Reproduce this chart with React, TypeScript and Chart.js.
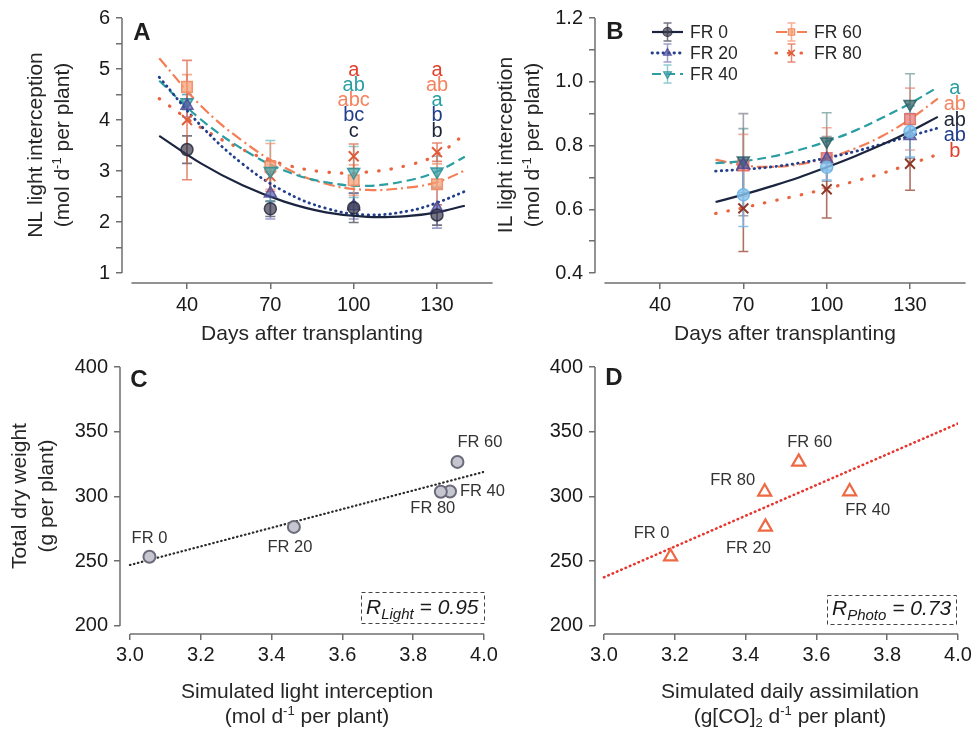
import React, { useEffect, useRef } from 'react';
import { Chart, registerables } from 'chart.js';

Chart.register(...registerables);

/* ====================== DATA ====================== */
const SERIES_NAMES = ['FR 0', 'FR 20', 'FR 40', 'FR 60', 'FR 80'];

// Panel A – NL light interception (mol d-1 per plant)
const NL_DAYS = [40, 70, 100, 130];
const NL_FR0 = [3.42, 2.26, 2.28, 2.14];
const NL_FR20 = [4.28, 2.56, 2.31, 2.27];
const NL_FR40 = [4.35, 3.0, 2.98, 2.99];
const NL_FR60 = [4.65, 3.09, 2.82, 2.74];
const NL_FR80 = [4.0, 2.9, 3.29, 3.37];
const NL_ERR_FR0 = [0.27, 0.15, 0.29, 0.2];
const NL_ERR_FR20 = [0.22, 0.5, 0.25, 0.39];
const NL_ERR_FR40 = [0.15, 0.6, 0.5, 0.3];
const NL_ERR_FR60 = [0.24, 0.45, 0.3, 0.4];
const NL_ERR_FR80 = [1.17, 0.3, 0.24, 0.18];
const NL_FIT_DAYS = [30, 45, 60, 75, 90, 105, 120, 130, 140];
const NL_FIT_FR0 = [3.69, 3.15, 2.72, 2.4, 2.19, 2.1, 2.12, 2.19, 2.32];
const NL_FIT_FR20 = [4.84, 3.89, 3.14, 2.6, 2.27, 2.14, 2.22, 2.38, 2.6];
const NL_FIT_FR40 = [4.77, 4.01, 3.43, 3.01, 2.78, 2.71, 2.82, 2.99, 3.28];
const NL_FIT_FR60 = [5.21, 4.28, 3.59, 3.07, 2.75, 2.63, 2.68, 2.78, 3.01];
const NL_FIT_FR80 = [4.42, 3.85, 3.42, 3.13, 2.98, 2.98, 3.12, 3.32, 3.72];
const NL_Y_TICKS = [1, 1.5, 2, 2.5, 3, 3.5, 4, 4.5, 5, 5.5, 6];
const NL_Y_LABELS = [1, 2, 3, 4, 5, 6];
const DAY_TICKS = [40, 70, 100, 130];
const NL_SIG_DAYS = [100, 130];
const NL_SIG_100 = ['a', 'ab', 'abc', 'bc', 'c'];
const NL_SIG_100_SERIES = [4, 2, 3, 1, 0];
const NL_SIG_130 = ['a', 'ab', 'a', 'b', 'b'];
const NL_SIG_130_SERIES = [4, 3, 2, 1, 0];

// Panel B – IL light interception (mol d-1 per plant)
const IL_DAYS = [70, 100, 130];
const IL_FR0 = [0.646, 0.732, 0.844];
const IL_FR20 = [0.74, 0.758, 0.83];
const IL_FR40 = [0.753, 0.813, 0.93];
const IL_FR60 = [0.738, 0.761, 0.883];
const IL_FR80 = [0.603, 0.663, 0.743];
const IL_ERR_FR0 = [0.1, 0.04, 0.08];
const IL_ERR_FR20 = [0.16, 0.07, 0.07];
const IL_ERR_FR40 = [0.1, 0.09, 0.095];
const IL_ERR_FR60 = [0.097, 0.095, 0.097];
const IL_ERR_FR80 = [0.135, 0.09, 0.083];
const IL_FIT_DAYS = [60, 70, 80, 90, 100, 110, 120, 130, 140];
const IL_FIT_FR0 = [0.623, 0.646, 0.672, 0.7, 0.732, 0.766, 0.803, 0.844, 0.89];
const IL_FIT_FR20 = [0.72, 0.725, 0.733, 0.745, 0.761, 0.781, 0.805, 0.83, 0.855];
const IL_FIT_FR40 = [0.745, 0.751, 0.765, 0.786, 0.813, 0.846, 0.887, 0.932, 0.983];
const IL_FIT_FR60 = [0.756, 0.738, 0.733, 0.741, 0.761, 0.79, 0.83, 0.883, 0.947];
const IL_FIT_FR80 = [0.587, 0.605, 0.625, 0.644, 0.665, 0.688, 0.713, 0.742, 0.772];
const IL_Y_TICKS = [0.4, 0.5, 0.6, 0.7, 0.8, 0.9, 1.0, 1.1, 1.2];
const IL_Y_LABELS = [0.4, 0.6, 0.8, 1.0, 1.2];
const IL_SIG = ['a', 'ab', 'ab', 'ab', 'b'];
const IL_SIG_SERIES = [2, 3, 0, 1, 4];

// Panels C & D – total dry weight (g per plant), order FR0, FR20, FR40, FR60, FR80
const TOTAL_DW = [253.5, 276.5, 303.8, 326.7, 303.6];
const SIM_LIGHT = [3.055, 3.463, 3.904, 3.925, 3.878];
const SIM_ASSIM = [3.188, 3.456, 3.694, 3.55, 3.454];
const FIT_X_CD = [3.0, 4.0];
const LIGHT_FIT_Y = [247.1, 319.0];
const ASSIM_FIT_Y = [237.6, 356.3];
const CD_X_TICKS = [3.0, 3.2, 3.4, 3.6, 3.8, 4.0];
const CD_Y_TICKS = [200, 250, 300, 350, 400];
const R_LIGHT = '0.95';
const R_PHOTO = '0.73';

/* ====================== STYLE ====================== */
const FONT = '"Liberation Sans", Arial, Helvetica, sans-serif';
const PAGE_W = 979;
const PAGE_H = 732;
const AXIS_COLOR = '#6f6f6f';
const TEXT_COLOR = '#262626';
const TICK_COLOR = '#1a1a1a';
const Y_AXIS_W = 60;
const X_AXIS_H = 45;

type SeriesStyle = {
  color: string; width: number; dash: number[]; cap: CanvasLineCap;
  marker: string; rot: number; r: number; mFill: string; mStroke: string; mWidth: number;
  err: string; letter: string;
};

const A_STYLES: SeriesStyle[] = [
  { color: '#1b2540', width: 2.2, dash: [], cap: 'butt', marker: 'circle', rot: 0, r: 6, mFill: 'rgba(60,60,80,0.7)', mStroke: 'rgba(35,35,55,0.8)', mWidth: 1.5, err: 'rgba(45,45,65,0.65)', letter: '#1e2435' },
  { color: '#223f8c', width: 2.8, dash: [0.5, 5], cap: 'round', marker: 'triangle', rot: 0, r: 7, mFill: 'rgba(85,85,165,0.65)', mStroke: 'rgba(70,70,150,0.8)', mWidth: 1.5, err: 'rgba(95,95,170,0.6)', letter: '#1f3d8a' },
  { color: '#2a9ea3', width: 2.2, dash: [9, 5], cap: 'butt', marker: 'triangle', rot: 180, r: 7, mFill: 'rgba(65,165,172,0.7)', mStroke: 'rgba(45,145,150,0.85)', mWidth: 1.5, err: 'rgba(70,170,175,0.6)', letter: '#2a9fa3' },
  { color: '#f47e55', width: 2.2, dash: [11, 4, 2, 4], cap: 'butt', marker: 'rect', rot: 0, r: 7.5, mFill: 'rgba(246,160,120,0.75)', mStroke: 'rgba(240,140,100,0.9)', mWidth: 1.5, err: 'rgba(245,140,100,0.7)', letter: '#f4845f' },
  { color: '#ea6440', width: 3.2, dash: [0.5, 12], cap: 'round', marker: 'crossRot', rot: 0, r: 7, mFill: 'rgba(0,0,0,0)', mStroke: '#de5e3c', mWidth: 2, err: 'rgba(220,90,60,0.7)', letter: '#e2412e' },
];

const B_STYLES: SeriesStyle[] = [
  { ...A_STYLES[0], mFill: 'rgba(135,198,240,0.8)', mStroke: 'rgba(110,180,230,0.9)', err: 'rgba(110,110,120,0.6)' },
  { ...A_STYLES[1], mFill: 'rgba(75,85,150,0.6)', err: 'rgba(90,90,105,0.55)' },
  { ...A_STYLES[2], mFill: 'rgba(55,105,110,0.75)', mStroke: 'rgba(45,95,100,0.85)', err: 'rgba(80,130,130,0.6)' },
  { ...A_STYLES[3], mFill: 'rgba(232,125,120,0.75)', mStroke: 'rgba(225,110,100,0.9)', err: 'rgba(230,120,100,0.6)' },
  { ...A_STYLES[4], mStroke: '#8b3a2a', err: 'rgba(150,65,45,0.75)' },
];
const B_ERR_FR0_COLOR = 'rgba(120,185,235,0.85)';

const C_LABEL_POS = [
  { dx: 0, dy: -18, align: 'center' }, { dx: -4, dy: 21, align: 'center' },
  { dx: 10, dy: 0, align: 'left' }, { dx: 0, dy: -19, align: 'left' }, { dx: -8, dy: 17, align: 'center' },
];
const D_LABEL_POS = [
  { dx: -19, dy: -23, align: 'center' }, { dx: -17, dy: 22, align: 'center' },
  { dx: 18, dy: 19, align: 'center' }, { dx: 11, dy: -19, align: 'center' }, { dx: -32, dy: -11, align: 'center' },
];

/* ====================== HELPERS ====================== */
const pts = (xs: number[], ys: number[]) => xs.map((x, i) => ({ x, y: ys[i] }));

type Area = { l: number; t: number; r: number; b: number };
function layoutFor(a: Area) {
  return { padding: { left: a.l - Y_AXIS_W, top: a.t, right: PAGE_W - a.r, bottom: PAGE_H - a.b - X_AXIS_H } };
}

function xAxisOpts(min: number, max: number, ticks: number[], fmt: (v: number) => string, pad: number) {
  return {
    type: 'linear', position: 'bottom', min, max, bounds: 'data',
    afterBuildTicks: (s: any) => { s.ticks = ticks.map((v) => ({ value: v })); },
    afterFit: (s: any) => { s.height = X_AXIS_H; },
    ticks: { autoSkip: false, maxRotation: 0, minRotation: 0, padding: pad, color: TICK_COLOR, font: { family: FONT, size: 20 }, callback: (v: any) => fmt(Number(v)) },
    grid: { display: true, drawOnChartArea: false, drawTicks: true, tickLength: 6, color: AXIS_COLOR, lineWidth: 1.5 },
    border: { display: false },
  };
}

function yAxisOpts(min: number, max: number, ticks: number[], labeled: number[], fmt: (v: number) => string) {
  return {
    type: 'linear', position: 'left', min, max, bounds: 'data',
    afterBuildTicks: (s: any) => { s.ticks = ticks.map((v) => ({ value: v })); },
    afterFit: (s: any) => { s.width = Y_AXIS_W; },
    ticks: { autoSkip: false, padding: 6, color: TICK_COLOR, font: { family: FONT, size: 20 },
      callback: (v: any) => (labeled.some((l) => Math.abs(l - Number(v)) < 1e-6) ? fmt(Number(v)) : '') },
    grid: { display: true, drawOnChartArea: false, drawTicks: true, tickLength: 6, color: AXIS_COLOR, lineWidth: 1.5 },
    border: { display: false },
  };
}

function drawAxisLines(chart: any, xFrom: number, xTo: number, yFrom: number, yTo: number) {
  const { ctx, chartArea, scales } = chart;
  ctx.save();
  ctx.strokeStyle = AXIS_COLOR;
  ctx.lineWidth = 1.5;
  ctx.beginPath();
  ctx.moveTo(chartArea.left, scales.y.getPixelForValue(yTo));
  ctx.lineTo(chartArea.left, scales.y.getPixelForValue(yFrom));
  ctx.moveTo(scales.x.getPixelForValue(xFrom), chartArea.bottom);
  ctx.lineTo(scales.x.getPixelForValue(xTo), chartArea.bottom);
  ctx.stroke();
  ctx.restore();
}

type Part = { t: string; s?: number; dy?: number };
function drawParts(ctx: CanvasRenderingContext2D, parts: Part[], x: number, baseline: number, base: number, align: 'left' | 'center', style = '') {
  const fontOf = (s: number) => `${style}${s}px ${FONT}`;
  const widths = parts.map((p) => { ctx.font = fontOf(p.s ?? base); return ctx.measureText(p.t).width; });
  const total = widths.reduce((a, b) => a + b, 0);
  let cx = align === 'center' ? x - total / 2 : x;
  ctx.textAlign = 'left';
  ctx.textBaseline = 'alphabetic';
  parts.forEach((p, i) => {
    ctx.font = fontOf(p.s ?? base);
    ctx.fillText(p.t, cx, baseline + (p.dy ?? 0));
    cx += widths[i];
  });
}

const TITLE_SIZE = 21;
function drawYTitle(ctx: CanvasRenderingContext2D, lines: Part[][], xs: number[], cy: number) {
  ctx.save();
  ctx.fillStyle = TEXT_COLOR;
  lines.forEach((parts, i) => {
    ctx.save();
    ctx.translate(xs[i], cy);
    ctx.rotate(-Math.PI / 2);
    drawParts(ctx, parts, 0, 7.5, TITLE_SIZE, 'center');
    ctx.restore();
  });
  ctx.restore();
}
function drawXTitle(ctx: CanvasRenderingContext2D, lines: Part[][], cx: number, ys: number[]) {
  ctx.save();
  ctx.fillStyle = TEXT_COLOR;
  lines.forEach((parts, i) => drawParts(ctx, parts, cx, ys[i] + 7.5, TITLE_SIZE, 'center'));
  ctx.restore();
}
function drawPanelLetter(ctx: CanvasRenderingContext2D, letter: string, x: number, y: number) {
  ctx.save();
  ctx.fillStyle = '#1e1e1e';
  ctx.font = `bold 24px ${FONT}`;
  ctx.textAlign = 'center';
  ctx.textBaseline = 'middle';
  ctx.fillText(letter, x, y);
  ctx.restore();
}

function drawShape(ctx: CanvasRenderingContext2D, shape: string, x: number, y: number, r: number, rot: number, fill: string, stroke: string, lw: number) {
  ctx.save();
  ctx.translate(x, y);
  if (rot) ctx.rotate((rot * Math.PI) / 180);
  ctx.beginPath();
  if (shape === 'circle') ctx.arc(0, 0, r, 0, 2 * Math.PI);
  else if (shape === 'triangle') { ctx.moveTo(0, -r); ctx.lineTo(r * 0.866, r * 0.5); ctx.lineTo(-r * 0.866, r * 0.5); ctx.closePath(); }
  else if (shape === 'rect') { const s = r * 0.707; ctx.rect(-s, -s, 2 * s, 2 * s); }
  else { const s = r * 0.707; ctx.moveTo(-s, -s); ctx.lineTo(s, s); ctx.moveTo(s, -s); ctx.lineTo(-s, s); }
  if (shape !== 'crossRot') { ctx.fillStyle = fill; ctx.fill(); }
  ctx.strokeStyle = stroke;
  ctx.lineWidth = lw;
  ctx.stroke();
  ctx.restore();
}

function drawErrorBars(chart: any, days: number[], vals: number[][], errs: number[][], colors: string[]) {
  const { ctx, scales } = chart;
  ctx.save();
  ctx.lineWidth = 1.6;
  vals.forEach((v, i) => {
    ctx.strokeStyle = colors[i];
    days.forEach((d, j) => {
      const px = scales.x.getPixelForValue(d);
      const hi = scales.y.getPixelForValue(v[j] + errs[i][j]);
      const lo = scales.y.getPixelForValue(v[j] - errs[i][j]);
      ctx.beginPath();
      ctx.moveTo(px, hi); ctx.lineTo(px, lo);
      ctx.moveTo(px - 5, hi); ctx.lineTo(px + 5, hi);
      ctx.moveTo(px - 5, lo); ctx.lineTo(px + 5, lo);
      ctx.stroke();
    });
  });
  ctx.restore();
}

function timeDatasets(days: number[], vals: number[][], fitDays: number[], fits: number[][], styles: SeriesStyle[]) {
  const ds: any[] = [];
  fits.forEach((f, i) => ds.push({
    label: SERIES_NAMES[i] + ' fit', data: pts(fitDays, f), showLine: true, pointRadius: 0,
    borderColor: styles[i].color, borderWidth: styles[i].width, borderDash: styles[i].dash,
    borderCapStyle: styles[i].cap, tension: 0.4, fill: false, order: 2,
  }));
  vals.forEach((v, i) => ds.push({
    label: SERIES_NAMES[i], data: pts(days, v), showLine: false,
    pointStyle: styles[i].marker, pointRotation: styles[i].rot, pointRadius: styles[i].r,
    pointBackgroundColor: styles[i].mFill, pointBorderColor: styles[i].mStroke, pointBorderWidth: styles[i].mWidth,
    order: 1,
  }));
  return ds;
}

const baseOptions = (area: Area, scales: any) => ({
  responsive: false,
  animation: false,
  devicePixelRatio: 1,
  events: [],
  layout: layoutFor(area),
  plugins: { legend: { display: false }, tooltip: { enabled: false } },
  scales,
});

const UNIT_MOL: Part[] = [{ t: '(mol d' }, { t: '-1', s: 13, dy: -8 }, { t: ' per plant)' }];

/* ====================== PANEL CONFIGS ====================== */
function configA(): any {
  const vals = [NL_FR0, NL_FR20, NL_FR40, NL_FR60, NL_FR80];
  const errs = [NL_ERR_FR0, NL_ERR_FR20, NL_ERR_FR40, NL_ERR_FR60, NL_ERR_FR80];
  const fits = [NL_FIT_FR0, NL_FIT_FR20, NL_FIT_FR40, NL_FIT_FR60, NL_FIT_FR80];
  const area = { l: 122, t: 17, r: 492.6, b: 283 };
  return {
    type: 'scatter',
    data: { datasets: timeDatasets(NL_DAYS, vals, NL_FIT_DAYS, fits, A_STYLES) },
    options: baseOptions(area, {
      x: xAxisOpts(16.6, 150, DAY_TICKS, (v) => String(v), 4),
      y: yAxisOpts(0.805, 6, NL_Y_TICKS, NL_Y_LABELS, (v) => String(v)),
    }),
    plugins: [{
      id: 'decorA',
      beforeDatasetsDraw(chart: any) {
        drawAxisLines(chart, 20, 150, 1, 6);
        drawErrorBars(chart, NL_DAYS, vals, errs, A_STYLES.map((s) => s.err));
      },
      afterDraw(chart: any) {
        const { ctx, scales } = chart;
        drawPanelLetter(ctx, 'A', 142, 33);
        drawYTitle(ctx, [[{ t: 'NL light interception' }], UNIT_MOL], [34, 61], 145);
        drawXTitle(ctx, [[{ t: 'Days after transplanting' }]], 312, [332]);
        ctx.save();
        ctx.font = `20px ${FONT}`;
        ctx.textAlign = 'center';
        ctx.textBaseline = 'middle';
        const cols = [[NL_SIG_100, NL_SIG_100_SERIES], [NL_SIG_130, NL_SIG_130_SERIES]];
        cols.forEach(([letters, series], c) => {
          const px = scales.x.getPixelForValue(NL_SIG_DAYS[c]);
          const top = scales.y.getPixelForValue(4.98);
          (letters as string[]).forEach((l, i) => {
            ctx.fillStyle = A_STYLES[(series as number[])[i]].letter;
            ctx.fillText(l, px, top + i * 15.3);
          });
        });
        ctx.restore();
      },
    }],
  };
}

function configB(): any {
  const vals = [IL_FR0, IL_FR20, IL_FR40, IL_FR60, IL_FR80];
  const errs = [IL_ERR_FR0, IL_ERR_FR20, IL_ERR_FR40, IL_ERR_FR60, IL_ERR_FR80];
  const fits = [IL_FIT_FR0, IL_FIT_FR20, IL_FIT_FR40, IL_FIT_FR60, IL_FIT_FR80];
  const area = { l: 595, t: 17, r: 965.6, b: 283 };
  const errColors = B_STYLES.map((s) => s.err);
  return {
    type: 'scatter',
    data: { datasets: timeDatasets(IL_DAYS, vals, IL_FIT_DAYS, fits, B_STYLES) },
    options: baseOptions(area, {
      x: xAxisOpts(16.6, 150, DAY_TICKS, (v) => String(v), 4),
      y: yAxisOpts(0.369, 1.2, IL_Y_TICKS, IL_Y_LABELS, (v) => v.toFixed(1)),
    }),
    plugins: [{
      id: 'decorB',
      beforeDatasetsDraw(chart: any) {
        drawAxisLines(chart, 20, 150, 0.4, 1.2);
        drawErrorBars(chart, IL_DAYS, vals.slice(1), errs.slice(1), errColors.slice(1));
        drawErrorBars(chart, IL_DAYS, [vals[0]], [errs[0]], [B_ERR_FR0_COLOR]);
      },
      afterDraw(chart: any) {
        const { ctx, scales, chartArea } = chart;
        drawPanelLetter(ctx, 'B', 615, 32);
        drawYTitle(ctx, [[{ t: 'IL light interception' }], UNIT_MOL], [504, 531], 145);
        drawXTitle(ctx, [[{ t: 'Days after transplanting' }]], 785, [332]);
        // significance letters
        ctx.save();
        ctx.font = `20px ${FONT}`;
        ctx.textAlign = 'center';
        ctx.textBaseline = 'middle';
        const lx = scales.x.getPixelForValue(140) + 17;
        const top = scales.y.getPixelForValue(0.978);
        IL_SIG.forEach((l, i) => {
          ctx.fillStyle = A_STYLES[IL_SIG_SERIES[i]].letter;
          ctx.fillText(l, lx, top + i * 15.7);
        });
        ctx.restore();
        // legend
        const colX = [57, 181];
        const rowY = [14, 35, 56];
        const place = [[0, 0], [0, 1], [0, 2], [1, 0], [1, 1]];
        SERIES_NAMES.forEach((name, i) => {
          const st = A_STYLES[i];
          const x0 = chartArea.left + colX[place[i][0]];
          const y0 = chartArea.top + rowY[place[i][1]];
          ctx.save();
          ctx.strokeStyle = st.color;
          ctx.lineWidth = st.width;
          ctx.lineCap = st.cap;
          ctx.setLineDash(st.dash);
          ctx.beginPath();
          ctx.moveTo(x0, y0); ctx.lineTo(x0 + 31, y0);
          ctx.stroke();
          ctx.setLineDash([]);
          ctx.lineCap = 'butt';
          ctx.strokeStyle = st.err;
          ctx.lineWidth = 1.5;
          const mx = x0 + 15.5;
          ctx.beginPath();
          ctx.moveTo(mx, y0 - 9); ctx.lineTo(mx, y0 + 9);
          ctx.moveTo(mx - 4, y0 - 9); ctx.lineTo(mx + 4, y0 - 9);
          ctx.moveTo(mx - 4, y0 + 9); ctx.lineTo(mx + 4, y0 + 9);
          ctx.stroke();
          drawShape(ctx, st.marker, mx, y0, 4.5, st.rot, st.mFill, st.mStroke, st.marker === 'crossRot' ? 1.6 : 1.2);
          ctx.fillStyle = TEXT_COLOR;
          ctx.font = `17.5px ${FONT}`;
          ctx.textAlign = 'left';
          ctx.textBaseline = 'middle';
          ctx.fillText(name, x0 + 38, y0 + 1);
          ctx.restore();
        });
      },
    }],
  };
}

function configScatter(kind: 'C' | 'D'): any {
  const isC = kind === 'C';
  const xs = isC ? SIM_LIGHT : SIM_ASSIM;
  const fitY = isC ? LIGHT_FIT_Y : ASSIM_FIT_Y;
  const area = isC ? { l: 120, t: 367, r: 484, b: 634 } : { l: 595, t: 367, r: 958, b: 634 };
  const xMin = isC ? 2.9718 : 2.9746;
  const labelPos = isC ? C_LABEL_POS : D_LABEL_POS;
  const datasets = [
    {
      label: 'fit', data: pts(FIT_X_CD, fitY), showLine: true, pointRadius: 0,
      borderColor: isC ? '#2a2a2a' : '#e8352d', borderWidth: isC ? 2.2 : 2.6,
      borderDash: isC ? [0.5, 3.6] : [0.5, 4.2], borderCapStyle: 'round', order: 2,
    },
    {
      label: 'Total dry weight', data: pts(xs, TOTAL_DW), showLine: false,
      pointStyle: isC ? 'circle' : 'triangle', pointRadius: isC ? 6 : 7.5,
      pointBackgroundColor: isC ? '#c6c6d0' : 'rgba(255,255,255,0.85)',
      pointBorderColor: isC ? '#6a6a7a' : '#ee6843', pointBorderWidth: isC ? 2 : 2.2, order: 1,
    },
  ];
  return {
    type: 'scatter',
    data: { datasets },
    options: baseOptions(area, {
      x: xAxisOpts(xMin, 4.0, CD_X_TICKS, (v) => v.toFixed(1), 3),
      y: yAxisOpts(193.8, 400, CD_Y_TICKS, CD_Y_TICKS, (v) => String(v)),
    }),
    plugins: [{
      id: 'decor' + kind,
      beforeDatasetsDraw(chart: any) {
        drawAxisLines(chart, 3.0, 4.0, 200, 400);
      },
      afterDraw(chart: any) {
        const { ctx, scales, chartArea } = chart;
        if (isC) {
          drawPanelLetter(ctx, 'C', 139, 380);
          drawYTitle(ctx, [[{ t: 'Total dry weight' }], [{ t: '(g per plant)' }]], [18, 45], 496);
          drawXTitle(ctx, [[{ t: 'Simulated light interception' }], UNIT_MOL], 307, [690, 715]);
        } else {
          drawPanelLetter(ctx, 'D', 614, 378);
          drawXTitle(ctx, [[{ t: 'Simulated daily assimilation' }],
            [{ t: '(g[CO]' }, { t: '2', s: 13, dy: 4 }, { t: ' d' }, { t: '-1', s: 13, dy: -8 }, { t: ' per plant)' }]], 790, [690, 715]);
        }
        // point labels
        ctx.save();
        ctx.fillStyle = '#333333';
        ctx.font = `16.5px ${FONT}`;
        ctx.textBaseline = 'middle';
        SERIES_NAMES.forEach((name, i) => {
          const px = scales.x.getPixelForValue(xs[i]);
          const py = scales.y.getPixelForValue(TOTAL_DW[i]);
          const lp = labelPos[i];
          ctx.textAlign = lp.align as CanvasTextAlign;
          ctx.fillText(name, px + lp.dx, py + lp.dy);
        });
        ctx.restore();
        // R box
        const bw = isC ? 123 : 129;
        const bh = isC ? 31 : 29;
        const br = chartArea.right - (isC ? 0 : 2);
        const bb = chartArea.bottom - (isC ? 11 : 10);
        ctx.save();
        ctx.strokeStyle = '#444444';
        ctx.lineWidth = 1;
        ctx.setLineDash([4, 3]);
        ctx.strokeRect(br - bw + 0.5, bb - bh + 0.5, bw, bh);
        ctx.setLineDash([]);
        ctx.fillStyle = '#1a1a1a';
        drawParts(ctx, [{ t: 'R' }, { t: isC ? 'Light' : 'Photo', s: 15, dy: 5 }, { t: ' = ' + (isC ? R_LIGHT : R_PHOTO) }],
          br - bw + 5, bb - 9, 21, 'left', 'italic ');
        ctx.restore();
      },
    }],
  };
}

/* ====================== COMPONENT ====================== */
export default function App() {
  const refA = useRef<HTMLCanvasElement>(null);
  const refB = useRef<HTMLCanvasElement>(null);
  const refC = useRef<HTMLCanvasElement>(null);
  const refD = useRef<HTMLCanvasElement>(null);

  useEffect(() => {
    const charts = [
      new Chart(refA.current as HTMLCanvasElement, configA()),
      new Chart(refB.current as HTMLCanvasElement, configB()),
      new Chart(refC.current as HTMLCanvasElement, configScatter('C')),
      new Chart(refD.current as HTMLCanvasElement, configScatter('D')),
    ];
    return () => charts.forEach((c) => c.destroy());
  }, []);

  const cs: React.CSSProperties = { position: 'absolute', left: 0, top: 0, width: PAGE_W, height: PAGE_H };
  return (
    <div style={{ position: 'absolute', left: 0, top: 0, width: PAGE_W, height: PAGE_H, background: '#ffffff', overflow: 'hidden' }}>
      <canvas ref={refA} width={PAGE_W} height={PAGE_H} style={cs} />
      <canvas ref={refB} width={PAGE_W} height={PAGE_H} style={cs} />
      <canvas ref={refC} width={PAGE_W} height={PAGE_H} style={cs} />
      <canvas ref={refD} width={PAGE_W} height={PAGE_H} style={cs} />
    </div>
  );
}
